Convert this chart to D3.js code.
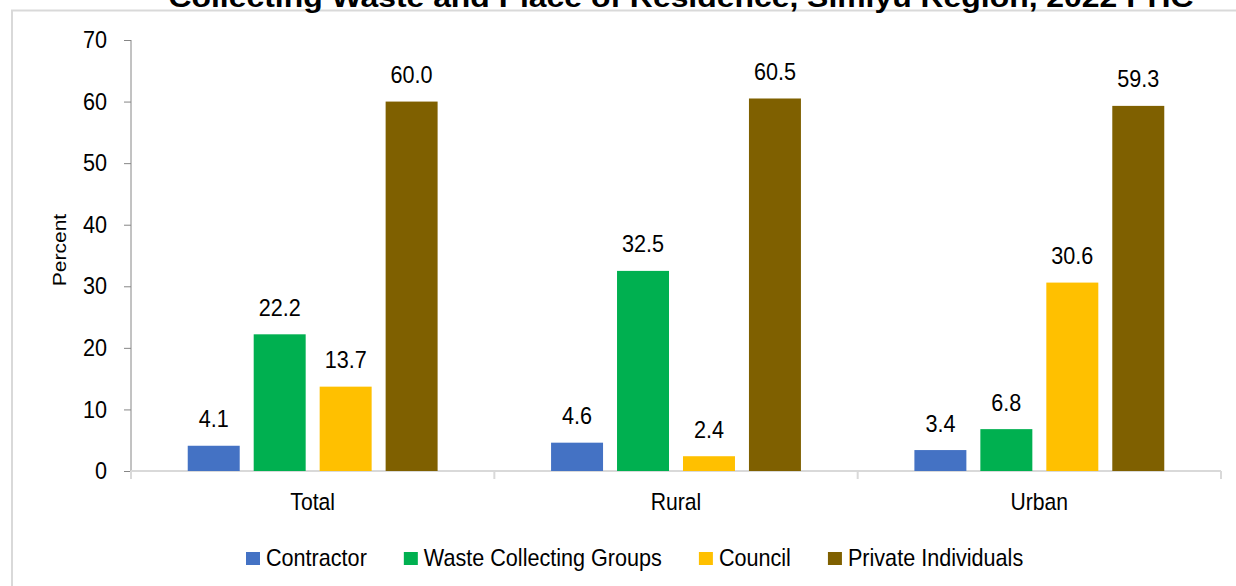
<!DOCTYPE html>
<html>
<head>
<meta charset="utf-8">
<script src="https://cdn.jsdelivr.net/npm/d3@7"></script>
<style>
  html, body { margin: 0; padding: 0; background: #fff; }
  svg { display: block; }
  text { font-family: "Liberation Sans", Arial, sans-serif; fill: #000; }
</style>
</head>
<body>
<svg id="chart" width="1236" height="586"></svg>
<script>
const titleText = "Collecting Waste and Place of Residence, Simiyu Region, 2022 PHC";
const categories = ["Total", "Rural", "Urban"];
const seriesNames = ["Contractor", "Waste Collecting Groups", "Council", "Private Individuals"];
const contractor = [4.1, 4.6, 3.4];
const wasteGroups = [22.2, 32.5, 6.8];
const council = [13.7, 2.4, 30.6];
const privateInd = [60.0, 60.5, 59.3];
const seriesColors = ["#4472C4", "#00B050", "#FFC000", "#7F6000"];
const yTicks = [0, 10, 20, 30, 40, 50, 60, 70];
const yLabel = "Percent";

const seriesValues = [contractor, wasteGroups, council, privateInd];
const data = categories.map((c, i) => ({
  cat: c,
  vals: seriesNames.map((s, j) => ({ s, v: seriesValues[j][i], color: seriesColors[j] }))
}));

const svg = d3.select("#chart");
const SX = 0.9;
const plotLeft = 131, plotRight = 1221, plotTop = 40, plotBottom = 471;

// frame
svg.append("path").attr("d", `M12,586 V10.5 H1236`).attr("fill", "none")
  .attr("stroke", "#d9d9d9").attr("stroke-width", 2);

// title (clipped at top, as in the reference)
svg.append("text").text(titleText)
  .attr("x", 681).attr("y", 7).attr("text-anchor", "middle")
  .attr("font-weight", "bold").attr("font-size", 27)
  .attr("textLength", 1025).attr("lengthAdjust", "spacingAndGlyphs");

const y = d3.scaleLinear().domain([0, 70]).range([plotBottom, plotTop]);
const x0 = d3.scaleBand().domain(categories).range([plotLeft, plotRight]).paddingInner(0).paddingOuter(0);
const x1 = d3.scaleBand().domain(seriesNames).range([0, x0.bandwidth()])
  .paddingInner(0.212).paddingOuter(0.86);

// y axis
const yAxis = d3.axisLeft(y).tickValues(yTicks).tickSize(7).tickFormat(d3.format("d"));
const gy = svg.append("g").attr("transform", `translate(${plotLeft},0)`).call(yAxis);
gy.select(".domain").remove();
gy.selectAll(".tick line").attr("stroke", "#868686");
gy.selectAll(".tick text")
  .attr("x", 0)
  .attr("transform", `translate(-24,0) scale(${SX},1)`)
  .attr("font-size", 24).attr("font-family", "Liberation Sans, Arial, sans-serif")
  .attr("fill", "#000");
svg.append("line").attr("x1", plotLeft).attr("x2", plotLeft)
  .attr("y1", y(70)).attr("y2", y(0) + 8).attr("stroke", "#868686");

// x axis line and boundary ticks
const boundaries = categories.map(c => x0(c)).concat([x0.range()[1]]);
svg.append("line").attr("x1", plotLeft).attr("x2", plotRight)
  .attr("y1", y(0)).attr("y2", y(0)).attr("stroke", "#d9d9d9").attr("stroke-width", 2);
svg.selectAll(".bt").data(boundaries).join("line").attr("class", "bt")
  .attr("x1", d => d).attr("x2", d => d)
  .attr("y1", y(0)).attr("y2", y(0) + 8).attr("stroke", "#d9d9d9").attr("stroke-width", 2);

// bars
const groups = svg.selectAll(".grp").data(data).join("g").attr("class", "grp")
  .attr("transform", d => `translate(${x0(d.cat)},0)`);
groups.selectAll("rect").data(d => d.vals).join("rect")
  .attr("x", d => x1(d.s)).attr("width", x1.bandwidth())
  .attr("y", d => y(d.v)).attr("height", d => y(0) - y(d.v))
  .attr("fill", d => d.color);
groups.selectAll(".vl").data(d => d.vals).join("text").attr("class", "vl")
  .attr("text-anchor", "middle").attr("font-size", 24)
  .attr("transform", d => `translate(${x1(d.s) + x1.bandwidth() / 2},${y(d.v) - 18.5}) scale(${SX},1)`)
  .text(d => d3.format(".1f")(d.v));

// category labels
svg.selectAll(".cl").data(categories).join("text").attr("class", "cl")
  .attr("text-anchor", "middle").attr("font-size", 23.5)
  .attr("transform", d => `translate(${x0(d) + x0.bandwidth() / 2},510) scale(${SX},1)`)
  .text(d => d);

// y label
svg.append("text").text(yLabel)
  .attr("text-anchor", "middle").attr("font-size", 21)
  .attr("transform", `translate(66,250) rotate(-90) scale(1,${SX})`);

// legend
const lg = svg.append("g");
let lx = 246;
seriesNames.forEach((s, i) => {
  lg.append("rect").attr("x", lx).attr("y", 552).attr("width", 14).attr("height", 13)
    .attr("fill", seriesColors[i]);
  const t = lg.append("text").text(s).attr("font-size", 24)
    .attr("transform", `translate(${lx + 20},566) scale(${SX},1)`);
  const w = t.node().getComputedTextLength() * SX;
  lx += 20 + w + 37;
});
</script>
</body>
</html>
